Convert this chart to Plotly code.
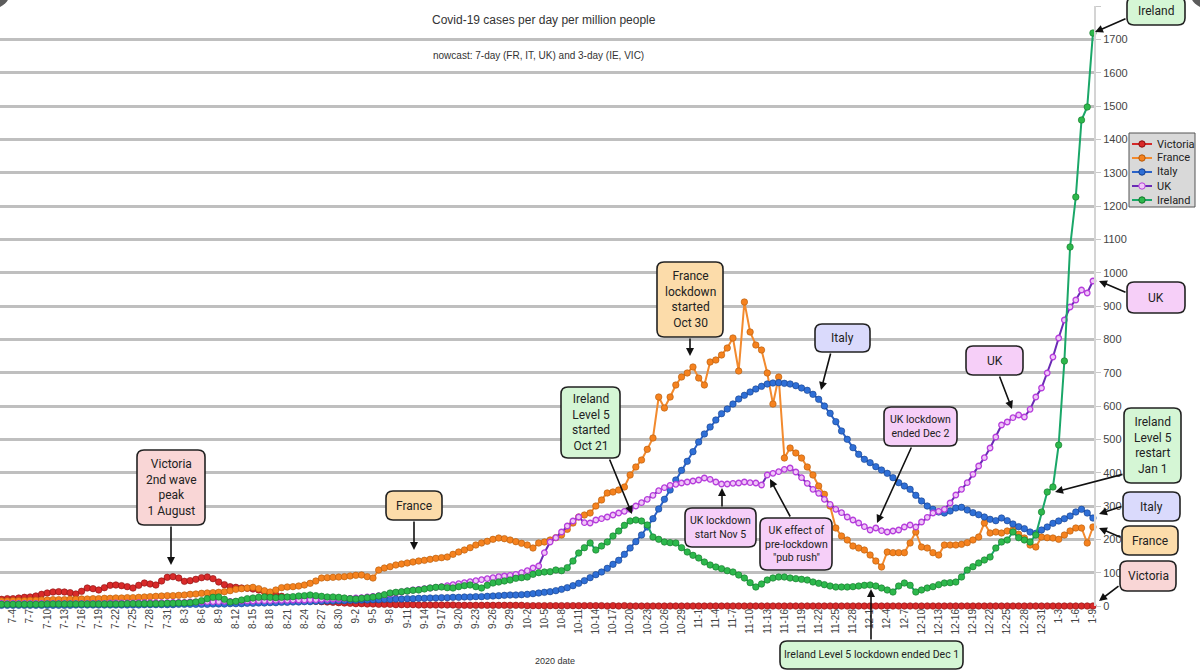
import plotly.graph_objects as go
import pandas as pd

# ---------------- data (daily, 2020-07-02 .. 2021-01-09) ----------------
dates = pd.date_range("2020-07-02", "2021-01-09", freq="D")

victoria = (
    [20, 22, 22, 24, 26, 27, 30, 35, 39, 42, 43, 42, 40, 36, 44, 54, 52, 48, 55, 62,
     63, 61, 58, 54, 62, 69, 66, 63, 75, 86]
    + [88, 84, 74, 76, 80, 85, 87, 82, 72, 64, 58, 56, 54, 53, 51, 48, 43, 38, 33, 29,
       26, 23, 20, 18, 16, 14, 13, 12, 11, 10, 9]
    + [8, 7, 7, 6, 6, 5, 5, 5, 4, 4, 4, 4, 3, 3, 3, 3, 3, 3, 3, 2,
       2, 2, 2, 2, 2, 2, 2, 2, 2, 2]
    + [2, 1, 1, 1, 1, 1, 1, 1, 1, 1, 1, 1, 1, 1, 1, 0, 1, 0, 1, 0,
       0, 0, 0, 0, 0, 0, 0, 0, 0, 0, 0]
    + [0, 0, 0, 0, 0, 0, 0, 0, 0, 0, 0, 0, 0, 0, 0, 0, 0, 0, 0, 0,
       0, 0, 0, 0, 0, 0, 0, 0, 0, 0]
    + [0, 0, 0, 0, 0, 0, 0, 0, 0, 0, 0, 0, 0, 0, 0, 0, 0, 0, 0, 0,
       0, 0, 0, 0, 0, 0, 0, 0, 0, 0, 0]
    + [0, 0, 0, 0, 0, 0, 0, 0, 0]
)

france = (
    [15, 15, 16, 16, 16, 17, 17, 18, 18, 19, 19, 19, 20, 20, 21, 21, 22, 22, 23, 23,
     24, 24, 25, 25, 26, 27, 28, 29, 30, 31]
    + [31, 32, 33, 35, 36, 38, 39, 40, 41, 43, 46, 50, 52, 54, 56, 52, 46, 42, 48, 55,
       57, 58, 60, 63, 68, 75, 84, 85, 86, 87, 88]
    + [90, 92, 93, 88, 84, 108, 114, 118, 123, 126, 129, 132, 135, 137, 140, 143, 145, 147, 155, 162,
       168, 175, 183, 189, 194, 200, 204, 202, 198, 193]
    + [188, 183, 174, 189, 192, 198, 205, 213, 230, 249, 267, 273, 279, 300, 318, 339, 342, 348, 357, 393,
       417, 438, 470, 504, 627, 594, 627, 663, 687, 699, 717]
    + [684, 663, 732, 738, 753, 774, 804, 705, 912, 822, 783, 768, 699, 606, 687, 444, 474, 459, 444, 417,
       393, 360, 335, 300, 234, 210, 198, 180, 174, 168]
    + [153, 135, 117, 162, 160, 160, 160, 189, 222, 177, 174, 160, 153, 183, 183, 183, 185, 190, 198, 207,
       249, 219, 222, 219, 225, 228, 215, 204, 183, 177, 207]
    + [205, 204, 200, 213, 225, 234, 234, 189, 237]
)

italy = (
    [2, 2, 2, 2, 2, 2, 2, 2, 2, 2, 2, 2, 2, 3, 3, 3, 3, 3, 3, 3,
     3, 3, 3, 3, 3, 4, 4, 4, 4, 4]
    + [4, 5, 5, 5, 5, 5, 5, 6, 6, 6, 7, 7, 7, 8, 8, 9, 9, 10, 10, 11,
       11, 12, 12, 13, 13, 14, 14, 15, 15, 16, 16]
    + [17, 17, 18, 18, 19, 19, 20, 20, 21, 21, 22, 22, 23, 23, 24, 24, 25, 25, 26, 26,
       27, 27, 28, 28, 29, 30, 31, 32, 33, 33]
    + [34, 35, 37, 39, 41, 43, 46, 50, 55, 61, 68, 76, 85, 94, 102, 113, 125, 137, 155, 174,
       193, 213, 237, 262, 291, 320, 348, 378, 407, 434, 463]
    + [492, 516, 537, 558, 577, 591, 606, 621, 632, 642, 651, 659, 666, 669, 670, 668, 666, 661, 654, 647,
       635, 620, 600, 578, 553, 525, 500, 475, 455, 440]
    + [430, 418, 408, 398, 385, 370, 360, 350, 332, 315, 300, 290, 282, 279, 285, 294, 296, 288, 280, 274,
       267, 260, 256, 264, 256, 246, 238, 232, 222, 218, 228]
    + [237, 248, 255, 262, 270, 282, 290, 279, 264]
)

uk = (
    [8, 8, 8, 8, 8, 8, 8, 8, 8, 8, 8, 8, 8, 8, 8, 8, 8, 8, 8, 9,
     9, 9, 9, 9, 10, 10, 10, 10, 10, 10]
    + [11, 11, 11, 12, 12, 12, 13, 13, 13, 14, 14, 14, 15, 15, 15, 16, 16, 16, 17, 17,
       17, 18, 18, 18, 19, 19, 20, 20, 21, 21, 22]
    + [23, 24, 25, 27, 29, 31, 33, 36, 39, 42, 45, 48, 50, 52, 54, 56, 58, 61, 64, 67,
       70, 73, 76, 79, 82, 85, 88, 90, 92, 95]
    + [100, 106, 114, 120, 160, 192, 205, 222, 240, 255, 267, 250, 249, 258, 262, 267, 273, 279, 284, 290,
       300, 310, 320, 332, 346, 355, 362, 365, 369, 372, 375]
    + [378, 384, 380, 372, 366, 366, 368, 369, 372, 370, 369, 363, 393, 398, 403, 410, 414, 402, 385, 368,
       350, 338, 320, 305, 290, 280, 267, 258, 249, 238]
    + [228, 234, 226, 222, 225, 228, 237, 243, 237, 252, 266, 279, 284, 290, 309, 333, 350, 370, 395, 420,
       445, 474, 507, 543, 552, 565, 573, 567, 590, 627, 654]
    + [699, 747, 804, 858, 897, 918, 948, 939, 975]
)

ireland = (
    [5, 5, 5, 5, 5, 5, 5, 5, 6, 6, 6, 6, 6, 6, 6, 6, 6, 6, 6, 6,
     6, 6, 7, 7, 7, 7, 7, 7, 7, 8]
    + [8, 9, 9, 10, 12, 16, 22, 26, 27, 20, 12, 14, 18, 22, 24, 26, 27, 26, 25, 26,
       27, 28, 30, 31, 33, 31, 29, 27, 27, 26, 24]
    + [22, 21, 23, 25, 27, 30, 34, 39, 41, 43, 45, 47, 48, 51, 54, 56, 57, 55, 54, 58,
       61, 63, 58, 54, 62, 69, 72, 75, 78, 83]
    + [85, 87, 95, 100, 102, 103, 108, 106, 115, 135, 159, 175, 189, 168, 180, 192, 210, 225, 242, 255,
       258, 255, 243, 207, 200, 192, 190, 189, 175, 162, 152]
    + [144, 132, 123, 117, 112, 106, 102, 93, 84, 70, 57, 66, 78, 84, 87, 87, 84, 82, 80, 78,
       72, 68, 64, 60, 57, 57, 57, 58, 60, 62]
    + [63, 60, 54, 48, 42, 60, 69, 62, 42, 48, 54, 58, 64, 69, 70, 72, 87, 108, 118, 129,
       138, 147, 174, 192, 198, 222, 205, 198, 192, 213, 282]
    + [342, 357, 483, 735, 1077, 1227, 1458, 1497, 1719]
)

tick_labels = [
    "7-4", "7-7", "7-10", "7-13", "7-16", "7-19", "7-22", "7-25", "7-28", "7-31",
    "8-3", "8-6", "8-9", "8-12", "8-15", "8-18", "8-21", "8-24", "8-27", "8-30",
    "9-2", "9-5", "9-8", "9-11", "9-14", "9-17", "9-20", "9-23", "9-26", "9-29",
    "10-2", "10-5", "10-8", "10-11", "10-14", "10-17", "10-20", "10-23", "10-26", "10-29",
    "11-1", "11-4", "11-7", "11-10", "11-13", "11-16", "11-19", "11-22", "11-25", "11-28",
    "12-1", "12-4", "12-7", "12-10", "12-13", "12-16", "12-19", "12-22", "12-25", "12-28",
    "12-31", "1-3", "1-6", "1-9",
]

series_names = ["Victoria", "France", "Italy", "UK", "Ireland"]

# ---------------- helpers: pixel -> paper ----------------
PL, PR, PT, PB = 0, 1094, 6, 606


def px(x):
    return (x - PL) / (PR - PL)


def py(y):
    return (PB - y) / (PB - PT)


def tick_date(lbl):
    m, d = map(int, lbl.split("-"))
    return pd.Timestamp(year=2020 if m >= 7 else 2021, month=m, day=d)


tickvals = [tick_date(t) for t in tick_labels]
origin = pd.Timestamp("2020-07-04")
per_day = 5.714
x_range = [origin + pd.Timedelta(days=(PL - 13) / per_day),
           origin + pd.Timedelta(days=(PR - 13) / per_day)]

styles = {
    "Victoria": dict(line="#d42a2a", mfill="#d82a2a", mline="#8a1010", size=6.5),
    "France": dict(line="#f28a2e", mfill="#f5821f", mline="#b45a0a", size=6.5),
    "Italy": dict(line="#2a62c8", mfill="#2f6fd6", mline="#153f8a", size=6.5),
    "UK": dict(line="#6a2ab4", mfill="#f0c6f8", mline="#b63ddc", size=5.5),
    "Ireland": dict(line="#1aa768", mfill="#2db84c", mline="#14752a", size=6.5),
}

values = {"Victoria": victoria, "France": france, "Italy": italy, "UK": uk, "Ireland": ireland}

fig = go.Figure()
for name in series_names:
    s = styles[name]
    fig.add_trace(go.Scatter(
        x=dates, y=values[name], name=name, mode="lines+markers",
        line=dict(color=s["line"], width=2),
        marker=dict(color=s["mfill"], size=s["size"],
                    line=dict(color=s["mline"], width=1.3 if name == "UK" else 0.6)),
        cliponaxis=False, showlegend=False,
    ))

# ---------------- annotation boxes ----------------
PINK = "#f9d6d6"
ORANGE = "#fcdcaa"
GREEN = "#d5f6d5"
LAV = "#dadafc"
VIOLET = "#f6cff8"

# (x0, y0, x1, y1, fill, text, fontsize, arrow_tail, arrow_head)
boxes = [
    (137, 450, 205, 525, PINK, "Victoria<br>2nd wave<br>peak<br>1 August", 12, (171, 525), (171, 565)),
    (386, 491, 442, 520, ORANGE, "France", 12, (414, 520), (414, 550)),
    (561, 387, 620, 458, GREEN, "Ireland<br>Level 5<br>started<br>Oct 21", 12, (609, 458), (632, 514)),
    (657, 262, 723, 337, ORANGE, "France<br>lockdown<br>started<br>Oct 30", 12, (690, 337), (690, 356)),
    (815, 324, 870, 352, LAV, "Italy", 12, (831, 352), (821, 390)),
    (685, 508, 756, 547, VIOLET, "UK lockdown<br>start Nov 5", 10.5, (722, 508), (722, 488)),
    (760, 518, 832, 570, VIOLET, "UK effect of<br>pre-lockdown<br>\"pub rush\"", 10.5, (791, 518), (770, 479)),
    (884, 407, 957, 446, VIOLET, "UK lockdown<br>ended Dec 2", 10.5, (912, 446), (877, 523)),
    (966, 346, 1023, 375, VIOLET, "UK", 12, (999, 375), (1012, 409)),
    (780, 641, 963, 669, GREEN, "Ireland Level 5 lockdown ended Dec 1", 10.5, (871, 641), (871, 589)),
    (1124, 408, 1181, 483, GREEN, "Ireland<br>Level 5<br>restart<br>Jan 1", 12, (1124, 474), (1055, 492)),
    (1127, -3, 1185, 25, GREEN, "Ireland", 12, (1127, 18), (1095, 32)),
    (1127, 282, 1185, 313, VIOLET, "UK", 12, (1127, 293), (1099, 281)),
    (1123, 492, 1180, 521, LAV, "Italy", 12, (1123, 506), (1099, 514)),
    (1122, 526, 1178, 555, ORANGE, "France", 12, (1122, 538), (1099, 528)),
    (1120, 561, 1176, 591, PINK, "Victoria", 12, (1120, 585), (1099, 601)),
]


def rrect(x0, y0, x1, y1, r=7):
    return (
        f"M {px(x0 + r)},{py(y0)} L {px(x1 - r)},{py(y0)} "
        f"Q {px(x1)},{py(y0)} {px(x1)},{py(y0 + r)} L {px(x1)},{py(y1 - r)} "
        f"Q {px(x1)},{py(y1)} {px(x1 - r)},{py(y1)} L {px(x0 + r)},{py(y1)} "
        f"Q {px(x0)},{py(y1)} {px(x0)},{py(y1 - r)} L {px(x0)},{py(y0 + r)} "
        f"Q {px(x0)},{py(y0)} {px(x0 + r)},{py(y0)} Z"
    )


shapes = []
annotations = []
for (x0, y0, x1, y1, fill, text, fs, tail, head) in boxes:
    annotations.append(dict(
        x=px(head[0]), y=py(head[1]), xref="paper", yref="paper",
        ax=tail[0] - head[0], ay=tail[1] - head[1], text="",
        showarrow=True, arrowhead=2, arrowsize=1, arrowwidth=1.6, arrowcolor="#111",
    ))
    shapes.append(dict(type="path", path=rrect(x0, y0, x1, y1), xref="paper", yref="paper",
                       fillcolor=fill, line=dict(color="#222", width=1.6), layer="above"))
    ann = dict(
        x=px((x0 + x1) / 2), y=py((y0 + y1) / 2), xref="paper", yref="paper",
        text=text, showarrow=False, xanchor="center", yanchor="middle",
        font=dict(size=fs, color="#222", family="Roboto, Noto Sans, sans-serif"),
    )
    if y0 > PB:
        # opaque text background so tick labels never show through this box
        ann.update(bgcolor=fill, borderpad=2)
    annotations.append(ann)

# ---------------- custom compact legend ----------------
LEG_X0, LEG_Y0, LEG_X1, LEG_Y1 = 1129, 133, 1195, 207
shapes.append(dict(type="rect", xref="paper", yref="paper",
                   x0=px(LEG_X0), x1=px(LEG_X1), y0=py(LEG_Y0), y1=py(LEG_Y1),
                   fillcolor="#d9d9d9", line=dict(color="#555", width=1), layer="above"))
for i, name in enumerate(series_names):
    s = styles[name]
    yy = 144 + i * 14
    shapes.append(dict(type="line", xref="paper", yref="paper",
                       x0=px(1132), x1=px(1152), y0=py(yy), y1=py(yy),
                       line=dict(color=s["line"], width=2), layer="above"))
    r = 3.2
    shapes.append(dict(type="circle", xref="paper", yref="paper",
                       x0=px(1142 - r), x1=px(1142 + r), y0=py(yy + r), y1=py(yy - r),
                       fillcolor=s["mfill"], line=dict(color=s["mline"], width=1), layer="above"))
    annotations.append(dict(x=px(1155), y=py(yy), xref="paper", yref="paper", showarrow=False,
                            text=name, xanchor="left", yanchor="middle",
                            font=dict(size=11, color="#222", family="Roboto, Noto Sans, sans-serif")))

# corner circles (top corners)
shapes.append(dict(type="circle", xref="paper", yref="paper",
                   x0=px(-22), x1=px(10), y0=py(-24), y1=py(8),
                   fillcolor="#5c5c5c", line=dict(width=0)))
shapes.append(dict(type="circle", xref="paper", yref="paper",
                   x0=px(1190), x1=px(1222), y0=py(-24), y1=py(8),
                   fillcolor="#5c5c5c", line=dict(width=0)))

# titles
annotations += [
    dict(x=px(544), y=py(20), xref="paper", yref="paper", showarrow=False,
         xanchor="center", yanchor="middle",
         text="Covid-19 cases per day per million people",
         font=dict(size=12, color="#333", family="Liberation Sans, Arial, sans-serif")),
    dict(x=px(538), y=py(55), xref="paper", yref="paper", showarrow=False,
         xanchor="center", yanchor="middle",
         text="nowcast: 7-day (FR, IT, UK) and 3-day (IE, VIC)",
         font=dict(size=10, color="#333", family="Liberation Sans, Arial, sans-serif")),
    dict(x=px(555), y=py(661), xref="paper", yref="paper", showarrow=False,
         xanchor="center", yanchor="middle",
         text="2020 date",
         font=dict(size=9, color="#333", family="Liberation Sans, Arial, sans-serif")),
]

fig.update_layout(
    width=1200, height=671,
    margin=dict(l=PL, r=1200 - PR, t=PT, b=671 - PB),
    paper_bgcolor="white", plot_bgcolor="white",
    font=dict(family="Liberation Sans, Arial, sans-serif", color="#333"),
    shapes=shapes, annotations=annotations,
    showlegend=False,
)
fig.update_xaxes(
    type="date", range=x_range, tickmode="array", tickvals=tickvals, ticktext=tick_labels,
    tickangle=-90, tickfont=dict(size=10, color="#444"),
    showgrid=False, zeroline=False, showline=False, ticks="",
)
fig.update_yaxes(
    range=[0, 1800], side="right", tick0=0, dtick=100,
    showgrid=True, gridcolor="#bfbfbf", gridwidth=3, zeroline=False,
    showline=True, linecolor="#d4d4d4", linewidth=2,
    ticks="outside", ticklen=5, tickcolor="#c8c8c8",
    tickfont=dict(size=11, color="#444"),
)

fig.write_html("out.html")
